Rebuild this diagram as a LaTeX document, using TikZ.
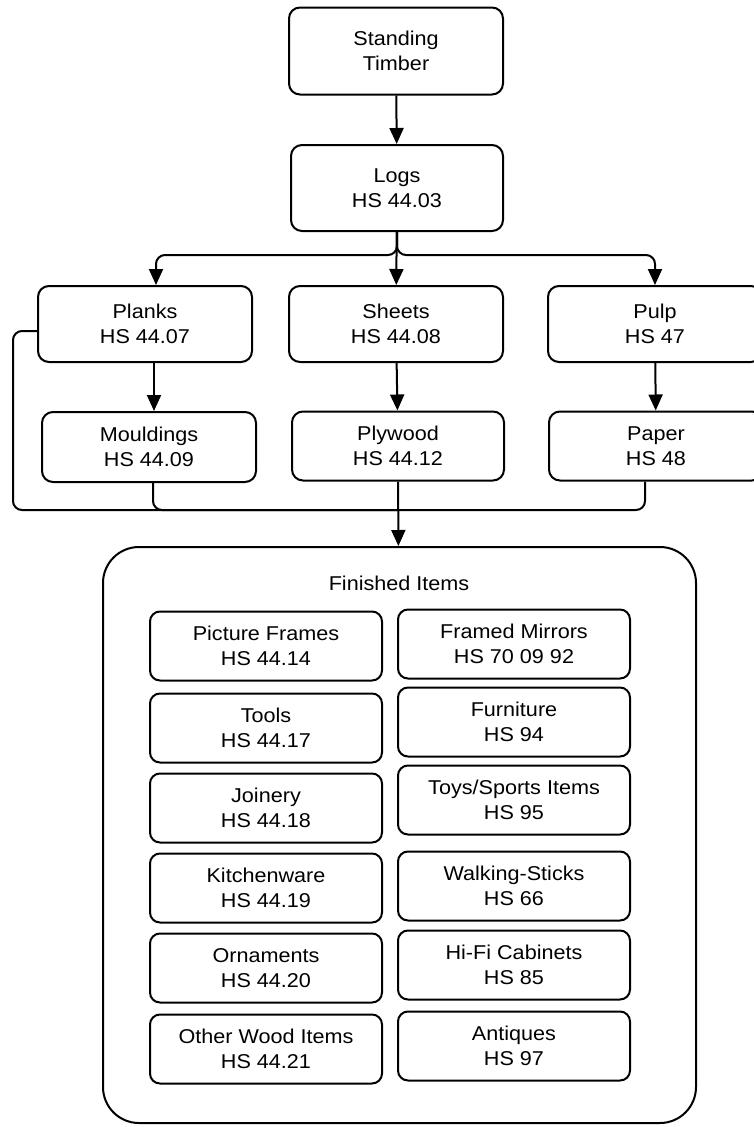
\documentclass[tikz,border=0pt]{standalone}
\usepackage{fontspec}
\setmainfont{Liberation Sans}[FakeStretch=1.08]
\usetikzlibrary{positioning,arrows.meta}

\begin{document}
\begin{tikzpicture}[x=1pt,y=-1pt,line width=2pt,font=\fontsize{20}{25}\selectfont,stage/.style={draw,rounded corners=11pt,align=center,minimum width=214pt,minimum height=76pt},item/.style={draw,rounded corners=10pt,align=center,minimum width=232pt,minimum height=69pt},arr/.style={-{Triangle[length=16pt,width=14pt]}},link/.style={rounded corners=9pt}]
\useasboundingbox (0,0) rectangle (753,1127);
\node[stage,minimum height=87pt] (timber) at (396,51) {Standing\\Timber};
\node[stage,minimum height=86pt,minimum width=212pt] (logs) at (397,188) {Logs\\HS 44.03};
\node[stage] (planks) at (145,324) {Planks\\HS 44.07};
\node[stage] (sheets) at (396,324) {Sheets\\HS 44.08};
\node[stage] (pulp) at (655,324) {Pulp\\HS 47};
\node[stage,minimum height=70pt] (mould) at (149,447) {Mouldings\\HS 44.09};
\node[stage,minimum height=69pt,minimum width=212pt] (ply) at (398,446) {Plywood\\HS 44.12};
\node[stage,minimum height=69pt] (paper) at (656,446) {Paper\\HS 48};
\node[draw,rounded corners=36pt,minimum width=593pt,minimum height=576pt] (fin) at (399.5,835) {};
\node (fintitle) at (399,583) {Finished Items};
\foreach \n/\t/\c/\y in {frames/Picture Frames/44.14/646,tools/Tools/44.17/728,joinery/Joinery/44.18/808,kitchen/Kitchenware/44.19/888,orna/Ornaments/44.20/968,other/Other Wood Items/44.21/1049}{\node[item] (\n) at (266,\y) {\t\\HS \c};}
\foreach \n/\t/\c/\y in {mirrors/Framed Mirrors/70 09 92/644,furn/Furniture/94/722,toys/{Toys/Sports Items}/95/800,sticks/Walking-Sticks/66/886,hifi/Hi-Fi Cabinets/85/965,antiq/Antiques/97/1046}{\node[item] (\n) at (514,\y) {\t\\HS \c};}
\coordinate (split) at (397,255);
\coordinate (bend) at (13,510);
\coordinate (join) at (398,510);
\draw[arr] (timber) -- (logs);
\draw[arr] (logs) -- (sheets);
\draw[arr,link] (logs.south) -- (split) -| ([xshift=11pt]planks.north);
\draw[arr,link] (logs.south) -- (split) -| (pulp.north);
\draw[arr] ([xshift=9pt]planks.south) -- ([xshift=9pt]planks.south |- mould.north);
\draw[arr] (sheets) -- (ply);
\draw[arr] (pulp) -- (paper);
\draw[link] ([yshift=-7pt]planks.west) -| (bend) -| ([xshift=-11pt]paper.south);
\draw[link] ([xshift=4pt]mould.south) |- (join);
\draw[arr] (ply) -- (fin);
\end{tikzpicture}
\end{document}
